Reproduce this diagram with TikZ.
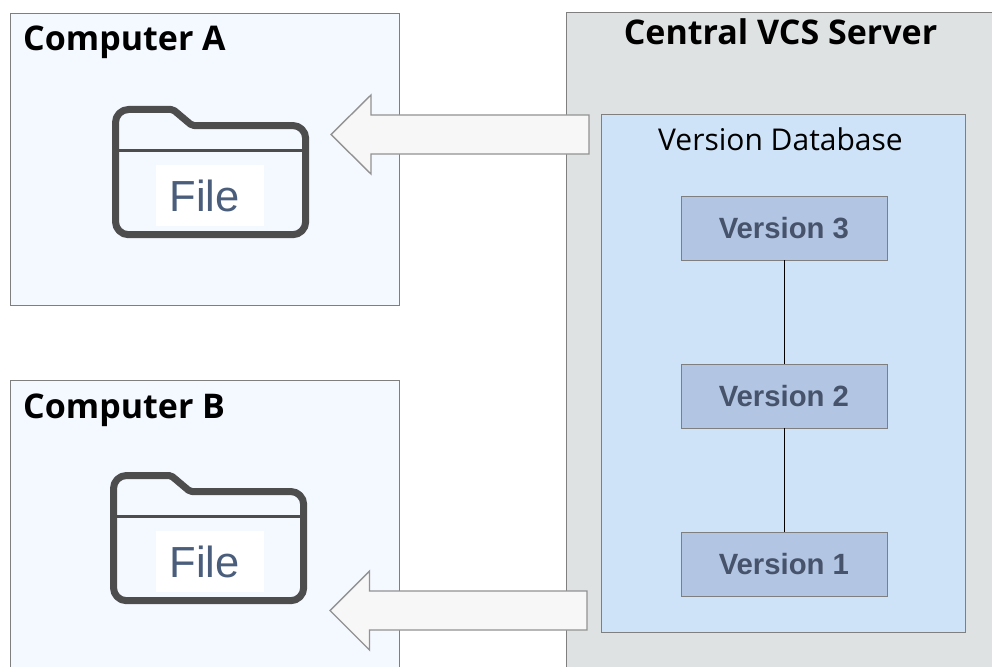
\documentclass[tikz,border=0pt]{standalone}
\usepackage{fontspec}
\setmainfont{Open Sans}
\newfontfamily\arialf{Liberation Sans}
\definecolor{edgegray}{HTML}{7F7F7F}
\definecolor{compfill}{HTML}{F4F8FF}
\definecolor{serverfill}{HTML}{DFE2E3}
\definecolor{dbfill}{HTML}{CFE3F8}
\definecolor{verfill}{HTML}{B2C5E2}
\definecolor{arrowfill}{HTML}{F7F7F7}
\definecolor{foldercol}{HTML}{4D4D4D}
\definecolor{filecol}{HTML}{4A5E7C}
\definecolor{vertext}{HTML}{46536A}
\tikzset{
  panel/.style={draw=edgegray,line width=0.9pt,fill=#1},
  titletext/.style={font=\fontsize{34}{36}\selectfont\bfseries,text=black,inner sep=0pt},
  verbox/.style={draw=edgegray,line width=0.9pt,fill=verfill,minimum width=206pt,minimum height=64pt,inner sep=0pt,font=\arialf\fontsize{29.3}{32}\selectfont\bfseries,text=vertext},
  bigarrow/.style={draw=edgegray!85,line width=1.4pt,fill=arrowfill,line join=miter},
  folderline/.style={draw=foldercol,line width=7pt,line join=round},
  filetag/.style={fill=white,minimum width=108pt,minimum height=61pt,inner sep=0pt,font=\arialf\fontsize{43.5}{46}\selectfont,text=filecol},
  link/.style={draw=black,line width=0.9pt}
}
\begin{document}
\begin{tikzpicture}[x=1pt,y=-1pt]
\useasboundingbox (0,0) rectangle (992,666);
\fill[white] (0,0) rectangle (992,666);
\begin{scope}
\clip (0,0) rectangle (992,666);
\draw[panel=compfill] (10.4,13) rectangle (399,305);
\draw[panel=compfill] (10.4,380) rectangle (399,690);
\draw[panel=serverfill] (566.9,12) rectangle (1010,690);
\end{scope}
\node[titletext,anchor=base west] (titleA) at (23,51) {Computer A};
\node[titletext,anchor=base west] (titleB) at (23,418) {Computer B};
\node[titletext,anchor=base] (titleS) at (780.5,45) {Central VCS Server};
\draw[panel=dbfill] (601.4,114) rectangle (965.8,632);
\node[anchor=base,inner sep=0pt,font=\fontsize{30}{32}\selectfont] (dbtitle) at (780.5,150) {Version Database};
\node[verbox] (v3) at (784.9,228) {\hspace*{-2pt}Version 3};
\node[verbox] (v2) at (784.9,396) {\hspace*{-2pt}Version 2};
\node[verbox] (v1) at (784.9,564) {\hspace*{-2pt}Version 1};
\draw[link] (v3) -- (v2);
\draw[link] (v2) -- (v1);
\draw[bigarrow] (589,115) -- (371,115) -- (371,95) -- (331,134.5) -- (371,174) -- (371,154) -- (589,154) -- cycle;
\draw[bigarrow] (587,591) -- (369.5,591) -- (369.5,571) -- (330,610.5) -- (369.5,650) -- (369.5,630) -- (587,630) -- cycle;
% folder A
\draw[folderline,rounded corners=13pt] (115.5,160) -- (115.5,109.5) [rounded corners=2pt] -- (173,109.5) -- (192,125.5) [rounded corners=13pt] -- (305.7,125.5) -- (305.7,234.7) -- (115.5,234.7) -- cycle;
\draw[draw=foldercol,line width=3pt] (116,150) -- (305,150);
\node[filetag] (fileA) at (210,195.5) {\hspace*{-11pt}File};
% folder B
\draw[folderline,rounded corners=13pt] (113.5,526) -- (113.5,475.5) [rounded corners=2pt] -- (171,475.5) -- (190,491.5) [rounded corners=13pt] -- (303.7,491.5) -- (303.7,600.7) -- (113.5,600.7) -- cycle;
\draw[draw=foldercol,line width=3pt] (114,516) -- (303,516);
\node[filetag] (fileB) at (210,561.5) {\hspace*{-11pt}File};
\end{tikzpicture}
\end{document}
